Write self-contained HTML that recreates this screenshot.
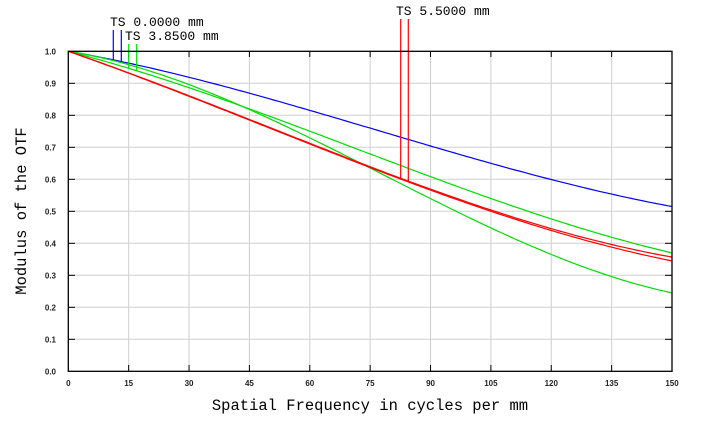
<!DOCTYPE html>
<html><head><meta charset="utf-8"><style>
body{margin:0;background:#fff;}
svg{display:block;}
.t{font-family:"Liberation Mono",monospace;}
.tk{font-family:"Liberation Sans",sans-serif;font-size:8px;font-weight:bold;fill:#222;}
</style></head><body>
<svg id="s" width="701" height="422" xmlns="http://www.w3.org/2000/svg">
<g id="grid" stroke="#cfcfcf" stroke-width="1"></g>
<g id="ticks" stroke="#000" stroke-width="1"></g>
<g id="labs"></g>
<g id="curves" fill="none" stroke-width="1.2"></g>
<rect x="68.3" y="51.3" width="603.7" height="320" fill="none" stroke="#000" stroke-width="1.3"/>
<text class="t" x="110" y="26" font-size="13">TS 0.0000 mm</text>
<text class="t" x="125" y="40" font-size="13">TS 3.8500 mm</text>
<text class="t" x="396" y="15" font-size="13">TS 5.5000 mm</text>
<text class="t" x="370" y="410" font-size="15.5" text-anchor="middle">Spatial Frequency in cycles per mm</text>
<text class="t" x="0" y="0" font-size="15.5" text-anchor="middle" transform="translate(26,211) rotate(-90)">Modulus of the OTF</text>
</svg>
<script>
var X0=68.3,XS=(672-68.3)/150,Y0=371.3,YS=320;
function X(f){return X0+f*XS}function Y(v){return Y0-v*YS}
var ns="http://www.w3.org/2000/svg";
function el(p,t,a,txt){var e=document.createElementNS(ns,t);for(var k in a)e.setAttribute(k,a[k]);if(txt!=null)e.textContent=txt;document.getElementById(p).appendChild(e);return e}
for(var i=1;i<10;i++){el("grid","line",{x1:X(i*15),x2:X(i*15),y1:51.3,y2:371.3});el("grid","line",{x1:68.3,x2:672,y1:Y(i/10),y2:Y(i/10)});
el("ticks","line",{x1:X(i*15),x2:X(i*15),y1:371.3,y2:365});el("ticks","line",{x1:X(i*15),x2:X(i*15),y1:51.3,y2:57});
el("ticks","line",{x1:68.3,x2:75,y1:Y(i/10),y2:Y(i/10)});el("ticks","line",{x1:672,x2:665,y1:Y(i/10),y2:Y(i/10)});}
for(var i=0;i<=10;i++){el("labs","text",{class:"tk",x:56,y:Y(i/10)+3,"text-anchor":"end"},(i/10).toFixed(1));
el("labs","text",{class:"tk",x:X(i*15),y:386,"text-anchor":"middle"},String(i*15));}
var XP=[0,45,105,150];
var S=[["#0000ff",[1,.869,.65,.515]],
["#00dd00",[1,.82,.54,.37]],
["#00dd00",[1,.818,.448,.245]],
["#ff0000",[1,.787,.504,.357]],
["#ff0000",[1,.785,.5,.345]]];
function val(v,f){var s=0;for(var i=0;i<4;i++){var l=1;for(var j=0;j<4;j++)if(j!=i)l*=(f-XP[j])/(XP[i]-XP[j]);s+=v[i]*l}return s}
S.forEach(function(s){var d="";for(var f=0;f<=150;f+=1)d+=(f?"L":"M")+X(f).toFixed(1)+","+Y(val(s[1],f)).toFixed(1);el("curves","path",{d:d,stroke:s[0]})});
function mk(x,y1,c,vi){var f=(x-X0)/XS;el("curves","line",{x1:x,x2:x,y1:y1,y2:Y(val(S[vi][1],f)),stroke:c})}
mk(113.3,30,"#0000ff",0);mk(121.3,30,"#0000ff",0);mk(128.7,44,"#00dd00",1);mk(136.7,44,"#00dd00",1);
mk(400.7,19,"#ff0000",3);mk(408.3,19,"#ff0000",4);
</script>
</body></html>
